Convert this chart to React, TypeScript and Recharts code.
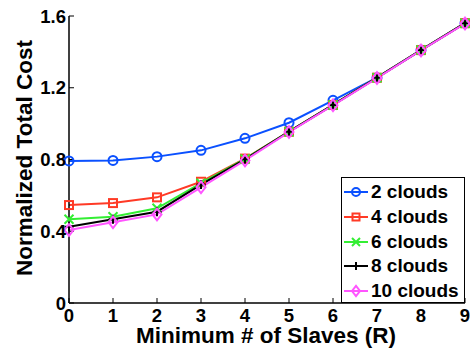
import React from "react";
import { LineChart, Line, XAxis, YAxis } from "recharts";

const slaves = [0, 1, 2, 3, 4, 5, 6, 7, 8, 9];
const yTicks = [0, 0.4, 0.8, 1.2, 1.6];

const cost2 = [0.792, 0.795, 0.816, 0.851, 0.918, 1.005, 1.13, 1.256, 1.41, 1.56];
const cost4 = [0.546, 0.557, 0.589, 0.676, 0.805, 0.955, 1.104, 1.256, 1.41, 1.56];
const cost6 = [0.467, 0.481, 0.528, 0.668, 0.803, 0.955, 1.104, 1.256, 1.41, 1.56];
const cost8 = [0.425, 0.467, 0.509, 0.66, 0.801, 0.955, 1.104, 1.256, 1.41, 1.56];
const cost10 = [0.407, 0.45, 0.494, 0.645, 0.795, 0.953, 1.102, 1.254, 1.408, 1.558];

const data = slaves.map((r, i) => ({
  r,
  c2: cost2[i],
  c4: cost4[i],
  c6: cost6[i],
  c8: cost8[i],
  c10: cost10[i],
}));

const font = "'Liberation Sans', Arial, sans-serif";

type Shape = "circle" | "square" | "x" | "plus" | "diamond";

const series: { key: string; name: string; color: string; shape: Shape }[] = [
  { key: "c2", name: "2 clouds", color: "#0a50ff", shape: "circle" },
  { key: "c4", name: "4 clouds", color: "#ff3a26", shape: "square" },
  { key: "c6", name: "6 clouds", color: "#33ee33", shape: "x" },
  { key: "c8", name: "8 clouds", color: "#000000", shape: "plus" },
  { key: "c10", name: "10 clouds", color: "#ff55ff", shape: "diamond" },
];

function Marker({ cx, cy, shape, color, s }: { cx: number; cy: number; shape: Shape; color: string; s: number }) {
  const sw = 2;
  switch (shape) {
    case "circle":
      return <circle cx={cx} cy={cy} r={s} fill="none" stroke={color} strokeWidth={sw} />;
    case "square":
      return <rect x={cx - s} y={cy - s} width={s * 2} height={s * 2} fill="none" stroke={color} strokeWidth={sw} />;
    case "x":
      return (
        <path d={`M${cx - s},${cy - s}L${cx + s},${cy + s}M${cx - s},${cy + s}L${cx + s},${cy - s}`} stroke={color} strokeWidth={sw} />
      );
    case "plus":
      return <path d={`M${cx - s},${cy}L${cx + s},${cy}M${cx},${cy - s}L${cx},${cy + s}`} stroke={color} strokeWidth={sw} />;
    default:
      return (
        <path
          d={`M${cx},${cy - s * 1.3}L${cx + s},${cy}L${cx},${cy + s * 1.3}L${cx - s},${cy}Z`}
          fill="none"
          stroke={color}
          strokeWidth={sw}
        />
      );
  }
}

function makeDot(shape: Shape, color: string) {
  return (props: any) => {
    const { cx, cy, index } = props;
    if (cx == null || cy == null) return <g key={index} />;
    return (
      <g key={index}>
        <Marker cx={cx} cy={cy} shape={shape} color={color} s={shape === "square" ? 4 : 4.5} />
      </g>
    );
  };
}

function LegendBox() {
  return (
    <div
      style={{
        position: "absolute",
        left: 341,
        top: 177,
        border: "1.5px solid #000",
        background: "#fff",
        width: 124,
        height: 126,
        boxSizing: "border-box",
        fontFamily: font,
        fontWeight: "bold",
        fontSize: 19,
        paddingTop: 2,
      }}
    >
      {series.map((s) => (
        <div key={s.key} style={{ display: "flex", alignItems: "center", height: 24.7 }}>
          <svg width={30} height={20} style={{ marginLeft: 1 }}>
            <line x1={1} y1={10} x2={25} y2={10} stroke={s.color} strokeWidth={2} />
            <Marker cx={13} cy={10} shape={s.shape} color={s.color} s={s.shape === "square" ? 3.5 : 4} />
          </svg>
          <span style={{ marginLeft: -2, color: "#000" }}>{s.name}</span>
        </div>
      ))}
    </div>
  );
}

const tickStyle = { fontFamily: font, fontWeight: "bold" as const, fontSize: 18.5, fill: "#000" };
const titleStyle = { fontFamily: font, fontWeight: "bold" as const, fontSize: 22.5, fill: "#000" };

export default function App() {
  return (
    <div style={{ position: "absolute", left: 0, top: 0, width: 470, height: 353, background: "#fff" }}>
      <LineChart width={470} height={353} data={data} margin={{ top: 16, right: 5, bottom: 0, left: 0 }}>
        <XAxis
          dataKey="r"
          type="number"
          domain={[0, 9]}
          ticks={slaves}
          interval={0}
          height={50}
          tickSize={-5}
          tickMargin={11}
          tick={tickStyle}
          stroke="#000"
          axisLine={{ stroke: "#000", strokeWidth: 1.5 }}
          label={{
            content: () => (
              <text x={266} y={343} textAnchor="middle" style={titleStyle}>
                Minimum # of Slaves (R)
              </text>
            ),
          }}
        />
        <XAxis
          xAxisId="top"
          dataKey="r"
          type="number"
          orientation="top"
          domain={[0, 9]}
          ticks={slaves}
          height={0}
          tickSize={-5}
          tickFormatter={() => ""}
          stroke="#000"
          axisLine={{ stroke: "#000", strokeWidth: 1.5 }}
        />
        <YAxis
          type="number"
          domain={[0, 1.6]}
          ticks={yTicks}
          interval={0}
          width={69}
          tickSize={-5}
          tickMargin={8}
          tick={tickStyle}
          tickFormatter={(v: number) => String(v)}
          stroke="#000"
          axisLine={{ stroke: "#000", strokeWidth: 1.5 }}
          label={{
            content: () => (
              <text
                x={24}
                y={158}
                transform="rotate(-90 24 158)"
                textAnchor="middle"
                dominantBaseline="central"
                style={titleStyle}
              >
                Normalized Total Cost
              </text>
            ),
          }}
        />
        <YAxis
          yAxisId="right"
          type="number"
          orientation="right"
          domain={[0, 1.6]}
          ticks={yTicks}
          width={0}
          tickSize={-5}
          tickFormatter={() => ""}
          stroke="#000"
          axisLine={{ stroke: "#000", strokeWidth: 1.5 }}
        />
        {series.map((s) => (
          <Line
            key={s.key}
            dataKey={s.key}
            name={s.name}
            stroke={s.color}
            strokeWidth={2}
            dot={makeDot(s.shape, s.color)}
            activeDot={false}
            isAnimationActive={false}
          />
        ))}
      </LineChart>
      <LegendBox />
    </div>
  );
}
